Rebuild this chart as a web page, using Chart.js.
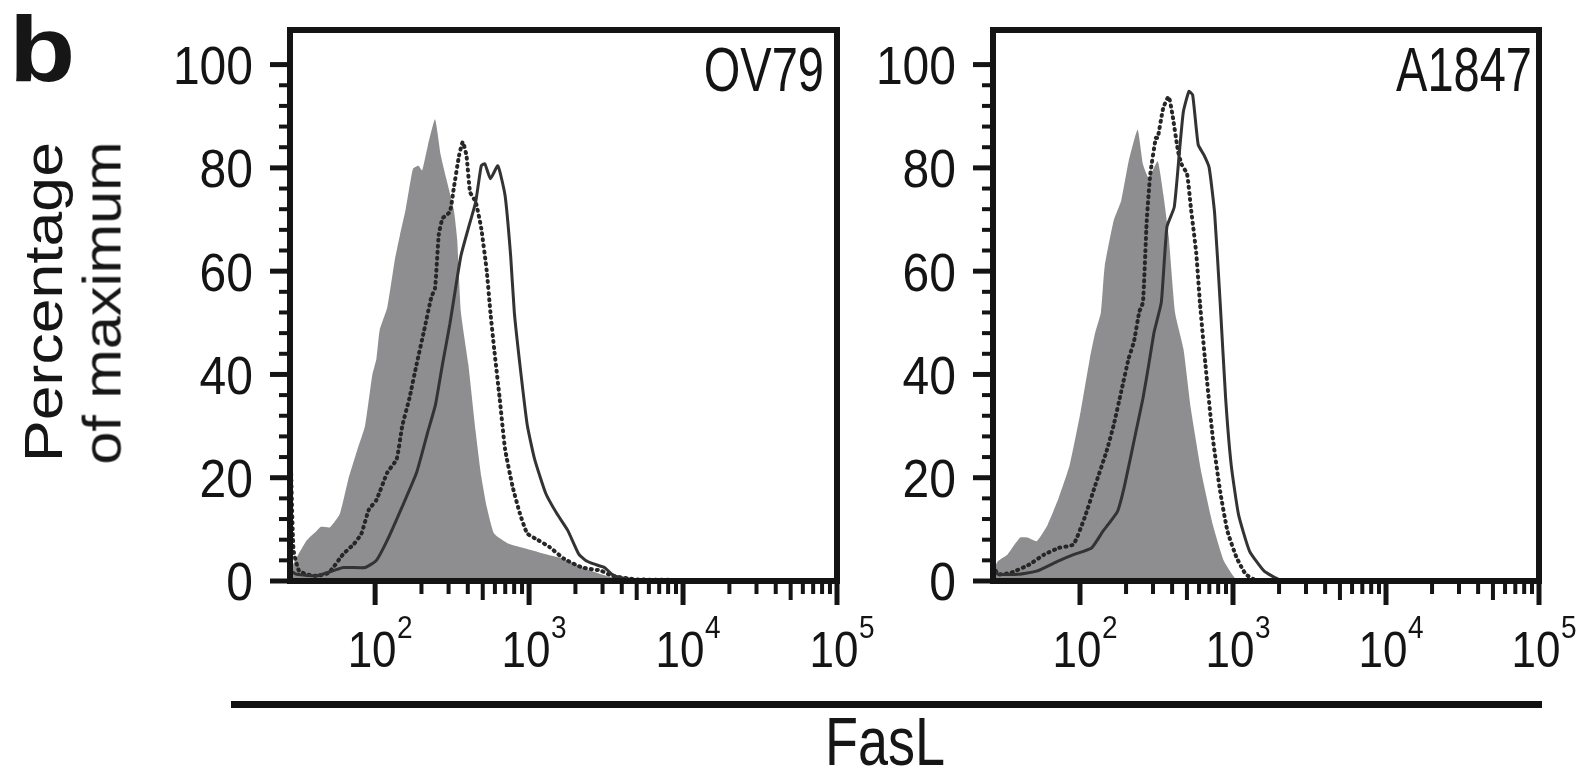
<!DOCTYPE html>
<html>
<head>
<meta charset="utf-8">
<script src="https://cdn.jsdelivr.net/npm/chart.js"></script>
<style>
  html, body { margin: 0; padding: 0; background: #fff; }
  #fig { position: relative; width: 1585px; height: 768px; overflow: hidden; background: #fff; }
  #fig canvas { position: absolute; top: 0; }
  .lbl { position: absolute; white-space: nowrap; line-height: 1; color: #161616;
         font-family: "Liberation Sans", Arial, Helvetica, sans-serif; }
</style>
</head>
<body>
<div id="fig">
  <canvas id="ov79" width="770" height="700" style="left:130px"></canvas>
  <canvas id="a1847" width="735" height="700" style="left:850px"></canvas>

  <div class="lbl" style="left:9px;top:3px;font-size:92px;font-weight:bold;transform-origin:0 0;transform:scaleX(1.18);">b</div>
  <div class="lbl" style="left:43px;top:302px;font-size:53px;transform:translate(-50%,-50%) rotate(-90deg) scaleX(1.18);">Percentage</div>
  <div class="lbl" style="left:102px;top:303px;font-size:53px;transform:translate(-50%,-50%) rotate(-90deg) scaleX(1.12);">of maximum</div>
  <div style="position:absolute;left:231px;top:701px;width:1311px;height:7px;background:#111;"></div>
  <div class="lbl" style="left:885px;top:719px;font-size:54px;transform-origin:50% 46px;transform:translateX(-50%) scaleY(1.28);">FasL</div>
</div>

<script>
// y ticks (percentage of maximum) and x decades (FasL, log scale)
const yTicks = [0, 20, 40, 60, 80, 100]
const xDecades = [2, 3, 4, 5]

// OV79 — isotype control (grey fill), dotted and solid histograms
const ov79IsoX = [28, 31, 36, 42, 44.5, 51, 59, 67, 77, 86, 96, 102, 107, 120, 134, 145, 158, 176, 191, 202, 220, 245, 267, 290, 324, 341, 361, 403, 450, 489, 531, 593, 738, 973, 1282, 1687, 2222, 2930, 3855, 5080, 100000]
const ov79IsoY = [2, 4.6, 7.9, 9.8, 10.5, 10.4, 13, 19.7, 25.6, 30, 40, 43, 48.5, 53, 62, 67, 72, 79.8, 80.4, 79.5, 84.3, 89.4, 82.4, 77.9, 72, 66.3, 52, 42, 28.9, 20.3, 14.4, 9.2, 7.2, 6.2, 5.2, 4.3, 2.6, 1.3, 0.3, 0, 0]

const ov79DotX = [28, 29.5, 32, 36, 42, 50, 62, 73, 81.5, 91, 102, 120, 138, 150, 167, 186, 208, 232, 245, 259, 274, 306, 324, 351, 371, 392, 414, 450, 489, 531, 561, 593, 644, 698, 780, 871, 973, 1148, 1355, 1687, 2222, 2930, 3453, 5080, 100000]
const ov79DotY = [30, 6, 2, 1.3, 1, 1.6, 5.2, 7.2, 9.2, 13.8, 15.7, 21, 23.6, 30, 35.4, 42, 48.5, 55, 56.7, 67, 70.2, 71.5, 76, 82.4, 85, 82.4, 75.3, 73.4, 68.3, 60, 52, 45, 35.4, 25.6, 18.4, 13.1, 9.2, 7.9, 6.6, 4.3, 2.6, 2, 1, 0.3, 0]

const ov79SolidX = [28, 31, 42, 62, 86, 102, 120, 150, 186, 220, 246, 274, 306, 333, 361, 403, 450, 489, 516, 561, 627, 698, 759, 802, 871, 973, 1086, 1282, 1511, 1783, 2103, 2349, 2624, 3093, 3453, 3855, 5080, 100000]
const ov79SolidY = [2, 1.3, 1, 2.6, 2.6, 4, 7.9, 14.4, 21, 28.9, 34, 42, 49.8, 56.7, 63, 68.3, 73.4, 80.4, 80.8, 77.9, 80.4, 74.7, 63, 52, 42, 30.2, 23.6, 17, 13.1, 9.8, 5.2, 3.9, 3.3, 2.6, 1.3, 0.7, 0.2, 0]

// A1847
const a1847IsoX = [27, 29.2, 33.5, 40.6, 45.4, 52.1, 61.5, 72.6, 85.7, 101, 116, 126, 137, 145, 166, 186, 208, 238, 258, 281, 322, 350, 380, 418, 474, 530, 625, 738, 871, 1028, 1213, 100000]
const a1847IsoY = [2, 3.9, 5.1, 8.4, 8.4, 7.7, 10.9, 16.1, 22.5, 32.8, 43.1, 48.2, 52, 60.9, 69.8, 73.7, 81.3, 87.4, 80.7, 78.1, 81.3, 75, 66.7, 52, 45, 33.4, 20.6, 10.9, 3.9, 0.6, 0, 0]

const a1847DotX = [27, 29.2, 35.4, 46.7, 58.2, 72.6, 90.6, 107, 126, 149, 166, 186, 208, 225, 244, 258, 273, 288, 313, 322, 350, 380, 402, 437, 461, 501, 530, 575, 608, 661, 738, 824, 921, 1057, 1213, 1432, 100000]
const a1847DotY = [3, 1.3, 1.6, 3.2, 5.1, 6.4, 7.1, 12.2, 18.6, 25.1, 30.2, 36.7, 43.1, 46.3, 52.1, 54, 69.8, 78.8, 85.8, 85.8, 91.6, 93.8, 90.3, 83.3, 80.7, 78.8, 72.4, 63.5, 53.9, 41.8, 27.7, 17.4, 9.6, 4.5, 1.3, 0.1, 0]

const a1847SolidX = [27, 29.2, 39.5, 52.1, 72.6, 90.6, 119, 141, 176, 196, 232, 258, 281, 305, 340, 370, 413, 449, 474, 515, 545, 592, 643, 698, 759, 824, 895, 973, 1086, 1282, 1600, 1995, 2500, 100000]
const a1847SolidY = [2, 1.3, 1.3, 1.9, 3.9, 5.1, 6.4, 9.6, 13.5, 18.6, 28.9, 35.4, 41.8, 48.2, 54, 68.6, 72.4, 83.9, 90.9, 94.8, 94.1, 84.5, 82.6, 80.1, 71.1, 54, 35.4, 22.5, 12.9, 5.8, 1.9, 0.3, 0, 0]

const FONT = '"Liberation Sans", Arial, Helvetica, sans-serif'
const INK = "#141414"

function pts(xs, ys) {
  return xs.map((x, i) => ({ x: x, y: ys[i] }))
}

function tick(ctx, x1, y1, x2, y2, w) {
  ctx.lineWidth = w
  ctx.beginPath()
  ctx.moveTo(x1, y1)
  ctx.lineTo(x2, y2)
  ctx.stroke()
}

function stretchedText(ctx, text, x, y, size, sy, align) {
  ctx.save()
  ctx.translate(x, y)
  ctx.scale(1, sy)
  ctx.font = size + "px " + FONT
  ctx.textAlign = align
  ctx.textBaseline = "alphabetic"
  ctx.fillText(text, 0, 0)
  ctx.restore()
}

// box, tick marks and labels, all placed through the chart's scales
const framePlugin = {
  id: "frame",
  afterDatasetsDraw(chart, args, opts) {
    const { ctx, chartArea: a, scales } = chart
    const x = scales.x
    const y = scales.y
    ctx.save()
    ctx.strokeStyle = INK
    ctx.fillStyle = INK
    ctx.lineCap = "butt"

    // y axis: minor every 4, major every 20
    for (let v = 0; v <= 100; v += 4) {
      const py = y.getPixelForValue(v)
      const major = v % 20 === 0
      tick(ctx, a.left - (major ? 20 : 11), py, a.left, py, major ? 5 : 4)
    }
    yTicks.forEach((v) => {
      const py = y.getPixelForValue(v)
      stretchedText(ctx, String(v), a.left - 37, py + 0.358 * 48 * 1.13, 48, 1.13, "right")
    })

    // x axis: decades with 2..9 minors
    xDecades.forEach((e) => {
      const px = x.getPixelForValue(Math.pow(10, e))
      tick(ctx, px, a.bottom, px, a.bottom + 24, 5)
      if (e < 5) {
        for (let m = 2; m <= 9; m++) {
          const mx = x.getPixelForValue(m * Math.pow(10, e))
          tick(ctx, mx, a.bottom, mx, a.bottom + (m === 5 ? 19 : 13), 4)
        }
      }
      stretchedText(ctx, "10", px - 3, a.bottom + 86, 44, 1.13, "center")
      stretchedText(ctx, String(e), px + 22, a.bottom + 57, 28, 1.13, "left")
    })

    // plot frame
    ctx.lineWidth = 6
    ctx.strokeRect(a.left, a.top, a.right - a.left, a.bottom - a.top)

    // panel title
    stretchedText(ctx, opts.title, a.right - opts.gap, a.top + 61, 47, 1.33, "right")
    ctx.restore()
  }
}

function makePanel(id, iso, dot, solid, xMin, pad, title, gap) {
  const ctx = document.getElementById(id).getContext("2d")
  return new Chart(ctx, {
    type: "line",
    data: {
      datasets: [
        {
          label: "solid",
          data: solid,
          borderColor: "#333333",
          borderWidth: 3,
          fill: false,
          order: 0
        },
        {
          label: "dotted",
          data: dot,
          borderColor: "#262626",
          borderWidth: 4,
          borderDash: [1, 5],
          borderCapStyle: "round",
          fill: false,
          order: 1
        },
        {
          label: "isotype",
          data: iso,
          borderColor: "rgba(0,0,0,0)",
          borderWidth: 0,
          backgroundColor: "#8e8e90",
          fill: "origin",
          order: 2
        }
      ]
    },
    options: {
      responsive: false,
      animation: false,
      devicePixelRatio: 1,
      layout: { padding: pad },
      elements: {
        point: { radius: 0 },
        line: { tension: 0.15 }
      },
      scales: {
        x: { type: "logarithmic", min: xMin, max: 100000, display: false },
        y: { type: "linear", min: 0, max: 106.7, display: false }
      },
      plugins: {
        legend: { display: false },
        tooltip: { enabled: false },
        frame: { title: title, gap: gap }
      }
    },
    plugins: [framePlugin]
  })
}

makePanel("ov79",
  pts(ov79IsoX, ov79IsoY), pts(ov79DotX, ov79DotY), pts(ov79SolidX, ov79SolidY),
  28, { left: 160, right: 63, top: 30, bottom: 119 }, "OV79", 13)

makePanel("a1847",
  pts(a1847IsoX, a1847IsoY), pts(a1847DotX, a1847DotY), pts(a1847SolidX, a1847SolidY),
  27, { left: 143, right: 46, top: 30, bottom: 119 }, "A1847", 7)
</script>
</body>
</html>
